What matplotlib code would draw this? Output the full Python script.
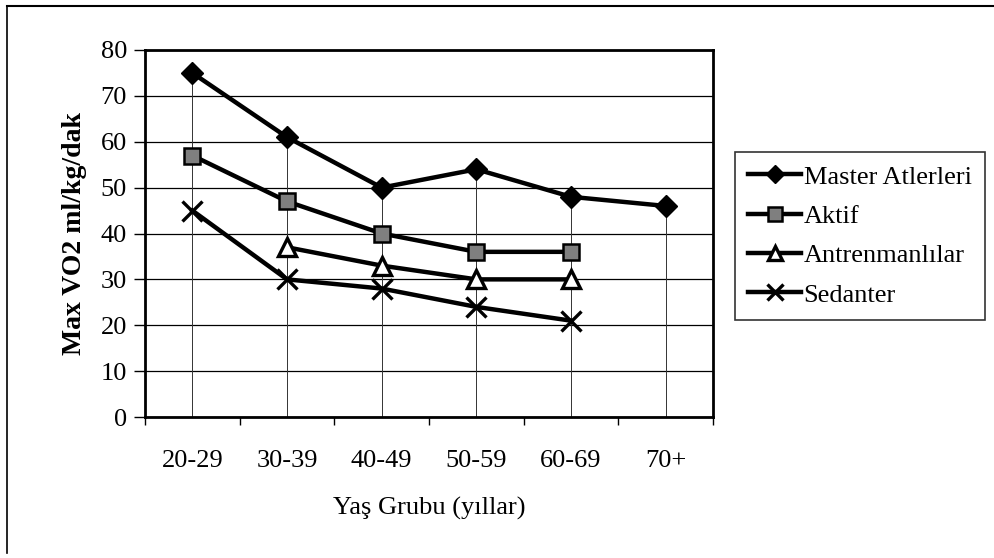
import numpy as np
import matplotlib
matplotlib.use("Agg")
import matplotlib.pyplot as plt
from matplotlib.lines import Line2D

plt.rcParams['font.family'] = ['Liberation Serif', 'DejaVu Serif']

categories = ["20-29", "30-39", "40-49", "50-59", "60-69", "70+"]
master = [75, 61, 50, 54, 48, 46]
aktif = [57, 47, 40, 36, 36, np.nan]
antrenmanlilar = [np.nan, 37, 33, 30, 30, np.nan]
sedanter = [45, 30, 28, 24, 21, np.nan]
yticks = [0, 10, 20, 30, 40, 50, 60, 70, 80]

fig = plt.figure(figsize=(9.94, 5.58), dpi=100)
ax = fig.add_axes([145 / 994, 1 - 417 / 558, 568 / 994, 367 / 558])

x = np.arange(len(categories))
series = [master, aktif, antrenmanlilar, sedanter]

# drop lines from the highest point of each category down to the axis
tops = np.nanmax(np.array(series, dtype=float), axis=0)
ax.vlines(x, 0, tops, colors='#333333', linewidths=0.7, zorder=1)

# horizontal gridlines
for v in yticks:
    ax.axhline(v, color='black', linewidth=0.9, zorder=0.5)

lw = 3.2
ax.plot(x, master, color='black', lw=lw, marker='D', ms=11,
        mfc='black', mec='black', zorder=3, label='Master Atlerleri')
ax.plot(x, aktif, color='black', lw=lw, marker='s', ms=12,
        mfc='#7f7f7f', mec='black', mew=1.8, zorder=3, label='Aktif')
ax.plot(x, antrenmanlilar, color='black', lw=lw, marker='^', ms=13,
        mfc='white', mec='black', mew=2.4, zorder=3, label='Antrenmanlılar')
ax.plot(x, sedanter, color='black', lw=lw, marker='x', ms=14,
        mec='black', mew=2.4, zorder=3, label='Sedanter')

ax.set_xlim(-0.5, len(categories) - 0.5)
ax.set_ylim(0, 80)
ax.set_yticks(yticks)
ax.set_yticklabels([str(v) for v in yticks], fontsize=19)
ax.set_xticks(x)
ax.set_xticklabels(categories, fontsize=19)
ax.tick_params(axis='x', length=0, pad=24)
ax.set_xticks(np.arange(len(categories) + 1) - 0.5, minor=True)
ax.tick_params(axis='x', which='minor', length=6, width=1, direction='out')
ax.tick_params(axis='y', length=8, width=1, direction='out', pad=5)

for s in ax.spines.values():
    s.set_linewidth(2.0)
    s.set_color('black')

ax.set_ylabel('Max VO2 ml/kg/dak', fontsize=20, fontweight='bold', labelpad=10)
ax.set_xlabel('Yaş Grubu (yıllar)', fontsize=19, labelpad=18)

leg = ax.legend(loc='upper left', bbox_to_anchor=(735 / 994, 1 - 152 / 558),
                bbox_transform=fig.transFigure, fontsize=19, frameon=True,
                fancybox=False, edgecolor='black', borderpad=0.5,
                handlelength=2.0, handletextpad=0.1, labelspacing=0.6,
                borderaxespad=0, markerscale=0.8)
leg.get_frame().set_linewidth(1.2)

# top and left edge of the chart frame
fig.add_artist(Line2D([7 / 994, 993 / 994], [1 - 6 / 558, 1 - 6 / 558],
                      transform=fig.transFigure, color='black', lw=1.5))
fig.add_artist(Line2D([7 / 994, 7 / 994], [1 - 6 / 558, 1 - 553 / 558],
                      transform=fig.transFigure, color='black', lw=1.2))

fig.savefig('out.png', dpi=100, facecolor='white')
